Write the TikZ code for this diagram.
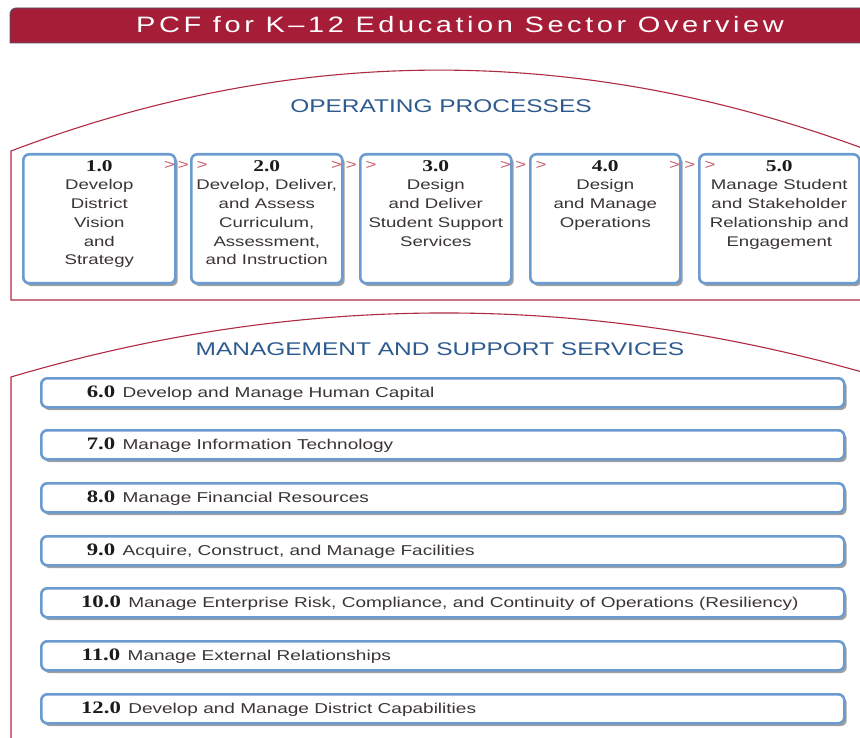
\documentclass[tikz,border=0pt]{standalone}
\usepackage{fontspec}
\setmainfont{Liberation Sans}[FakeStretch=1.33]
\newfontfamily\numfont{Liberation Serif}[FakeStretch=1.3]
\newfontfamily\titlefont{Liberation Sans}[FakeStretch=1.3,LetterSpace=16]
\usetikzlibrary{shadows,calc}
\definecolor{pcfred}{HTML}{A51D37}
\definecolor{baredge}{HTML}{4B5670}
\definecolor{arcred}{HTML}{B02A42}
\definecolor{boxblue}{HTML}{6C9BD0}
\definecolor{headblue}{HTML}{2D5B8E}
\definecolor{bodytext}{HTML}{3A3436}
\definecolor{numtext}{HTML}{1C1A1A}
\definecolor{chevred}{HTML}{C85A66}
\newcommand{\plines}[1]{\parbox[t]{170pt}{\centering\fontsize{14}{18.7}\selectfont #1}}
\begin{document}
\begin{tikzpicture}[x=1pt,y=-1pt,
  shbox/.style={draw=boxblue, line width=2.6pt, rounded corners=6pt, fill=white,
    drop shadow={shadow xshift=2.4pt, shadow yshift=-2.8pt, opacity=0.5, fill=black!75}},
  pbox/.style={shbox, anchor=north west, minimum height=129pt, inner sep=0pt},
  mbox/.style={shbox, anchor=north west, minimum width=803pt, minimum height=29pt, inner sep=0pt},
  pnum/.style={anchor=base, inner sep=0pt, text=numtext, font=\numfont\bfseries\fontsize{16.5}{17}\selectfont},
  mnum/.style={anchor=base, inner sep=0pt, text=numtext, font=\numfont\bfseries\fontsize{17.5}{18}\selectfont},
  ptext/.style={anchor=base, inner sep=0pt, text=bodytext},
  mtext/.style={anchor=base west, inner sep=0pt, text=bodytext, font=\fontsize{14.3}{17}\selectfont},
  chev/.style={anchor=base, inner sep=0pt, text=chevred, font=\fontsize{14}{14}\selectfont},
  heading/.style={anchor=base, inner sep=0pt, text=headblue, font=\fontsize{18.4}{20}\selectfont},
  arcline/.style={draw=arcred, line width=1.1pt}
]
\useasboundingbox (0,0) rectangle (860,738);
\fill[white] (0,0) rectangle (860,738);

% title bar
\filldraw[fill=pcfred, draw=baredge, line width=0.8pt]
  (10,43) {[rounded corners=6pt] -- (10,8) -- (300,8)} -- (866,8) -- (866,43) -- cycle;
\node[anchor=base, inner sep=0pt, text=white, font=\titlefont\fontsize{22.3}{24}\selectfont]
  (title) at (460,33) {PCF for K–12 Education Sector Overview};

% operating processes region
\draw[arcline] (862,148) .. controls (577.3,43.3) and (293.3,44) .. (11,151) -- (11,300) -- (862,300);
\node[heading] (ophead) at (441,113) {OPERATING PROCESSES};

\node[pbox, minimum width=152pt] (p1) at (22,153) {};
\node[pbox, minimum width=151pt] (p2) at (190,153) {};
\node[pbox, minimum width=151pt] (p3) at (359,153) {};
\node[pbox, minimum width=150pt] (p4) at (529,153) {};
\node[pbox, minimum width=160pt] (p5) at (698,153) {};

\foreach \b/\n in {p1/1.0,p2/2.0,p3/3.0,p4/4.0,p5/5.0}{
  \node[pnum] (\b num) at ($(\b.north)+(0,19)$) {\n};
}
\node[ptext] (p1txt) at ($(p1.north)+(0,37)$) {\plines{Develop\\District\\Vision\\and\\Strategy}};
\node[ptext] (p2txt) at ($(p2.north)+(0,37)$) {\plines{Develop, Deliver,\\and Assess\\Curriculum,\\Assessment,\\and Instruction}};
\node[ptext] (p3txt) at ($(p3.north)+(0,37)$) {\plines{Design\\and Deliver\\Student Support\\Services}};
\node[ptext] (p4txt) at ($(p4.north)+(0,37)$) {\plines{Design\\and Manage\\Operations}};
\node[ptext] (p5txt) at ($(p5.north)+(0,37)$) {\plines{Manage Student\\and Stakeholder\\Relationship and\\Engagement}};

% chevrons between process boxes
\foreach \a/\b in {p1/p2,p2/p3,p3/p4,p4/p5}{
  \node[chev] (\a chA) at ([xshift=-7pt,yshift=-17pt]\a.north east) {>};
  \node[chev] (\a chB) at ([yshift=-17pt]$(\a.north east)!0.5!(\b.north west)$) {>};
  \node[chev] (\a chC) at ([xshift=12pt,yshift=-17pt]\b.north west) {>};
}

% management and support services region
\draw[arcline] (862,372) .. controls (577.3,291.7) and (293.7,293.3) .. (11,377) -- (11,740);
\node[heading] (mshead) at (440,355) {MANAGEMENT AND SUPPORT SERVICES};

\foreach \i/\t/\n/\txt in {
  6/377/6.0/Develop and Manage Human Capital,
  7/429/7.0/Manage Information Technology,
  8/482/8.0/Manage Financial Resources,
  9/535/9.0/{Acquire, Construct, and Manage Facilities},
  10/587/10.0/{Manage Enterprise Risk, Compliance, and Continuity of Operations (Resiliency)},
  11/640/11.0/Manage External Relationships,
  12/693/12.0/Develop and Manage District Capabilities}{
  \node[mbox] (m\i) at (40,\t) {};
  \node[mnum] (m\i num) at (101,\t+20) {\n};
  \node[mtext] (m\i txt) at ([xshift=7pt]m\i num.base east) {\txt};
}
\end{tikzpicture}
\end{document}
